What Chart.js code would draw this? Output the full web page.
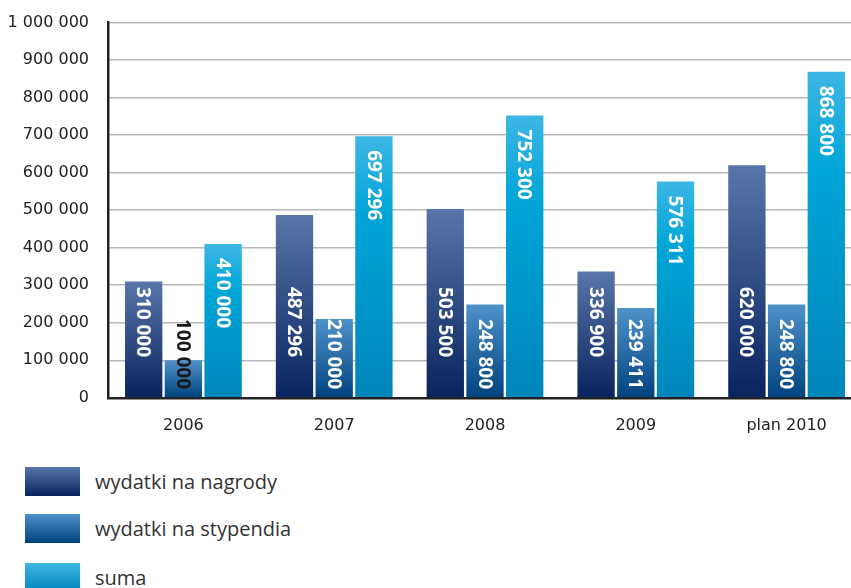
<!DOCTYPE html>
<html>
<head>
<meta charset="utf-8">
<script src="https://cdn.jsdelivr.net/npm/chart.js@4"></script>
<style>
  body { margin: 0; background: #fff; overflow: hidden; width: 851px; height: 588px; position: relative; }
  #wrap { position: absolute; left: 0; top: -6px; width: 862px; height: 459px; }
  .legend-item { position: absolute; left: 25px; height: 29px; }
  .legend-box { position: absolute; left: 0; top: 0; width: 55px; height: 29px; }
  .legend-text { position: absolute; left: 70px; top: 0; line-height: 29px; white-space: nowrap;
    font-family: "Open Sans", sans-serif; font-size: 20px; color: #333; }
</style>
</head>
<body>
<div id="wrap"><canvas id="barChart"></canvas></div>
<div id="legend"></div>
<script>
// dane z wykresu
const years = ["2006", "2007", "2008", "2009", "plan 2010"];
const nagrody = [310000, 487296, 503500, 336900, 620000];
const stypendia = [100000, 210000, 248800, 239411, 248800];
const suma = [410000, 697296, 752300, 576311, 868800];
const seriesNames = ["wydatki na nagrody", "wydatki na stypendia", "suma"];
const yTicks = [0, 100000, 200000, 300000, 400000, 500000, 600000, 700000, 800000, 900000, 1000000];

// kolory gradientow [góra, dół]
const gradients = [
    ["#5876aa", "#08235e"],
    ["#4f92ca", "#00427e"],
    ["#3db7e5", "#0085ba"]
];

function fmt(v) {
    return v.toString().replace(/\B(?=(\d{3})+(?!\d))/g, " ");
}

function barGradient(i) {
    return (context) => {
        const chart = context.chart;
        if (!chart.chartArea || context.dataIndex === undefined) return gradients[i][1];
        const y = chart.scales.y;
        const top = y.getPixelForValue(context.raw);
        const bottom = y.getPixelForValue(0);
        const g = chart.ctx.createLinearGradient(0, top, 0, bottom);
        g.addColorStop(0, gradients[i][0]);
        if (i === 2) g.addColorStop(0.3, "#00a5d8");
        g.addColorStop(1, gradients[i][1]);
        return g;
    };
}

// etykiety wartosci w slupkach
const valueLabels = {
    id: "valueLabels",
    afterDatasetsDraw(chart) {
        const ctx = chart.ctx;
        chart.data.datasets.forEach((ds, i) => {
            chart.getDatasetMeta(i).data.forEach((bar, j) => {
                const text = fmt(ds.data[j]);
                ctx.save();
                ctx.font = 'bold 19px "Open Sans"';
                const w = ctx.measureText(text).width;
                let start;
                if (i === 0) start = bar.base - 40 - w;
                else if (i === 1) start = bar.base - 8 - w;
                else start = bar.y + 14;
                ctx.fillStyle = start < bar.y - 10 ? "#1a1a1a" : "#fff";
                ctx.translate(bar.x, start);
                ctx.rotate(Math.PI / 2);
                ctx.textAlign = "left";
                ctx.textBaseline = "middle";
                ctx.fillText(text, 0, 1);
                ctx.restore();
            });
        });
    }
};

const seriesData = [nagrody, stypendia, suma];

new Chart(document.getElementById("barChart"), {
    type: "bar",
    data: {
        labels: years,
        datasets: seriesData.map((d, i) => ({
            label: seriesNames[i],
            data: d,
            backgroundColor: barGradient(i),
            borderWidth: 0,
            barPercentage: 0.94,
            categoryPercentage: 0.79
        }))
    },
    options: {
        responsive: true,
        maintainAspectRatio: false,
        animation: false,
        layout: { padding: 0 },
        plugins: {
            legend: { display: false },
            tooltip: { enabled: false }
        },
        scales: {
            x: {
                grid: { display: false, drawTicks: false },
                border: { color: "#222", width: 2.5 },
                ticks: {
                    padding: 18,
                    color: "#222",
                    font: { family: "DejaVu Sans", size: 16 }
                }
            },
            y: {
                min: 0,
                max: 1000000,
                afterBuildTicks: (axis) => { axis.ticks = yTicks.map(v => ({ value: v })); },
                afterFit: (axis) => { axis.width = 108; },
                grid: { color: "#b8b8b8", lineWidth: 1.5, drawTicks: false },
                border: { color: "#222", width: 2.5 },
                ticks: {
                    padding: 19,
                    color: "#222",
                    font: { family: "DejaVu Sans", size: 16 },
                    callback: (v) => fmt(v)
                }
            }
        }
    },
    plugins: [valueLabels]
});

// legenda
const legendTops = [467, 514, 563];
const legend = document.getElementById("legend");
seriesNames.forEach((name, i) => {
    const item = document.createElement("div");
    item.className = "legend-item";
    item.style.top = legendTops[i] + "px";
    item.innerHTML = '<div class="legend-box" style="background: linear-gradient(' +
        gradients[i][0] + ', ' + gradients[i][1] + ')"></div><div class="legend-text">' + name + '</div>';
    legend.appendChild(item);
});
</script>
</body>
</html>
